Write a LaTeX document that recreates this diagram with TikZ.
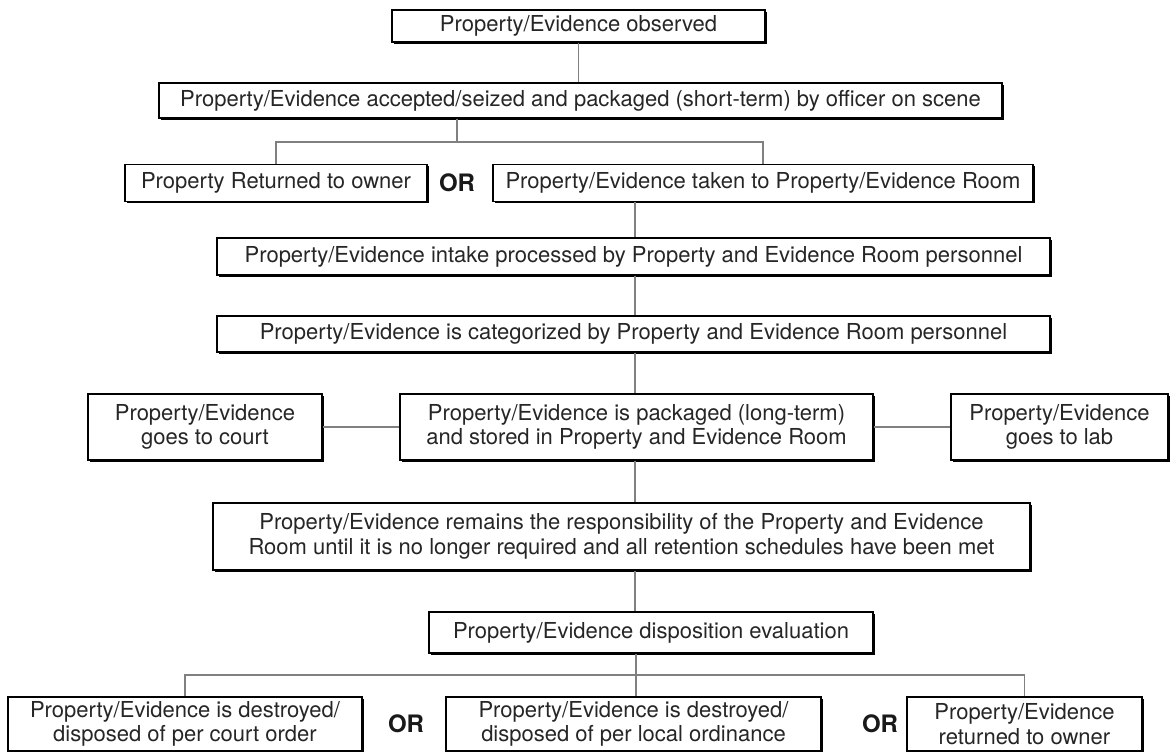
\documentclass[tikz,border=0pt]{standalone}
\usepackage{fontspec}
\setmainfont{TeX Gyre Heros}
\usetikzlibrary{shadows}
\begin{document}
\begin{tikzpicture}[x=1pt,y=-1pt,
  box/.style={draw=black, line width=1.3pt, fill=white, inner sep=0pt, align=center,
    text=black!85, font=\fontsize{22}{24.5}\selectfont,
    general shadow={fill=black, shadow xshift=1.6pt, shadow yshift=-1.6pt}},
  conn/.style={draw=black!50, line width=1.3pt},
  ortext/.style={text=black!90, font=\fontsize{24}{27}\selectfont\bfseries}]
\useasboundingbox (0,0) rectangle (1176,752);
\node[box, minimum width=373, minimum height=32] (n1) at (578.5,26) {Property/Evidence observed};
\node[box, minimum width=843, minimum height=35] (n2) at (580.5,100.5) {Property/Evidence accepted/seized and packaged (short-term) by officer on scene};
\node[box, minimum width=302, minimum height=37] (n3a) at (276,183) {Property Returned to owner};
\node[ortext] (or1) at (457,183) {OR};
\node[box, minimum width=540, minimum height=37] (n3b) at (763,183) {Property/Evidence taken to Property/Evidence Room};
\node[box, minimum width=833, minimum height=37] (n4) at (633.5,256.5) {Property/Evidence intake processed by Property and Evidence Room personnel};
\node[box, minimum width=833, minimum height=36] (n5) at (633.5,334) {Property/Evidence is categorized by Property and Evidence Room personnel};
\node[box, minimum width=234, minimum height=66] (n6a) at (205,427) {Property/Evidence\\goes to court};
\node[box, minimum width=473, minimum height=66] (n6b) at (636.5,427) {Property/Evidence is packaged (long-term)\\and stored in Property and Evidence Room};
\node[box, minimum width=217, minimum height=66] (n6c) at (1059.5,427) {Property/Evidence\\goes to lab};
\node[box, minimum width=817, minimum height=67] (n7) at (621.5,536.5) {Property/Evidence remains the responsibility of the Property and Evidence\\Room until it is no longer required and all retention schedules have been met};
\node[box, minimum width=444, minimum height=41] (n8) at (651,632.5) {Property/Evidence disposition evaluation};
\node[box, minimum width=354, minimum height=54] (n9a) at (185,724) {Property/Evidence is destroyed/\\disposed of per court order};
\node[ortext] (or2) at (406,724) {OR};
\node[box, minimum width=375, minimum height=54] (n9b) at (633.5,724) {Property/Evidence is destroyed/\\disposed of per local ordinance};
\node[ortext] (or3) at (880,724) {OR};
\node[box, minimum width=235, minimum height=54] (n9c) at (1024.5,724) {Property/Evidence\\returned to owner};
% joints
\coordinate (j1) at (457,142);
\coordinate (jm) at (635,0);
\coordinate (j2) at (636,675);
% connectors
\draw[conn] (n1.south) -- (n1.south |- n2.north);
\draw[conn] (n2.south -| j1) -- (j1);
\draw[conn] (n3a.north) -- (n3a.north |- j1) -- (n3b.north |- j1) -- (n3b.north);
\draw[conn] (n3b.south -| jm) -- (n4.north -| jm);
\draw[conn] (n4.south -| jm) -- (n5.north -| jm);
\draw[conn] (n5.south -| jm) -- (n6b.north -| jm);
\draw[conn] (n6a.east) -- (n6b.west);
\draw[conn] (n6b.east) -- (n6c.west);
\draw[conn] (n6b.south -| jm) -- (n7.north -| jm);
\draw[conn] (n7.south -| jm) -- (n8.north -| jm);
\draw[conn] (n8.south -| j2) -- (j2);
\draw[conn] (n9a.north) -- (n9a.north |- j2) -- (n9c.north |- j2) -- (n9c.north);
\draw[conn] (j2) -- (n9b.north -| j2);
\end{tikzpicture}
\end{document}
